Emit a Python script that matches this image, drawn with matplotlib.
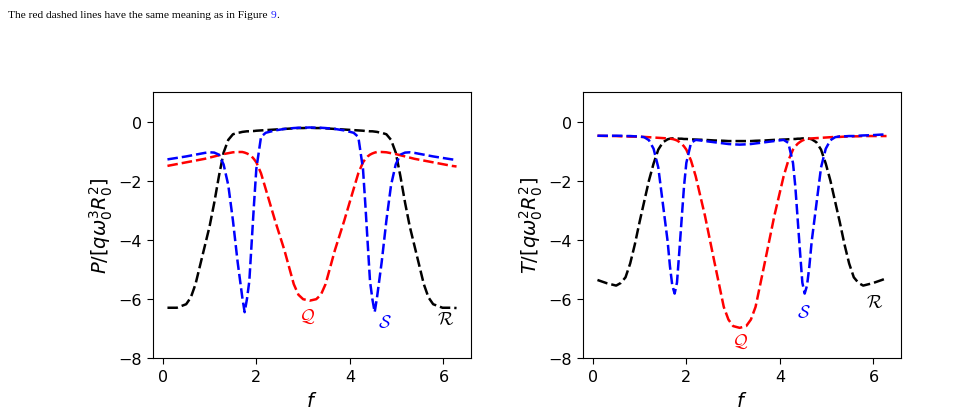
import numpy as np
import matplotlib
matplotlib.use('Agg')
import matplotlib.pyplot as plt
from matplotlib.text import Annotation

# 横坐标 f（两幅图共用）
f = [0.10, 0.30, 0.50, 0.60, 0.70, 0.80, 0.90, 1.00, 1.10, 1.20, 1.30, 1.40, 1.50, 1.60, 1.65,
     1.70, 1.75, 1.80, 1.85, 1.90, 1.95, 2.00, 2.10, 2.20, 2.40, 2.60, 2.80, 2.90, 3.00, 3.14,
     3.28, 3.38, 3.48, 3.68, 3.88, 4.08, 4.18, 4.28, 4.33, 4.38, 4.43, 4.48, 4.53, 4.58, 4.63,
     4.68, 4.78, 4.88, 4.98, 5.08, 5.18, 5.28, 5.38, 5.48, 5.58, 5.68, 5.78, 5.98, 6.18, 6.28]

# 左图 P
R_P = [-6.30, -6.30, -6.18, -5.95, -5.50, -4.85, -4.20, -3.55, -2.75, -1.85, -1.05, -0.62, -0.43, -0.38, -0.37,
       -0.35, -0.34, -0.33, -0.33, -0.32, -0.32, -0.31, -0.30, -0.29, -0.27, -0.25, -0.23, -0.22, -0.22, -0.21,
       -0.22, -0.22, -0.23, -0.25, -0.27, -0.29, -0.30, -0.31, -0.32, -0.32, -0.33, -0.33, -0.34, -0.35, -0.37,
       -0.38, -0.43, -0.62, -1.05, -1.85, -2.75, -3.55, -4.20, -4.85, -5.50, -5.95, -6.18, -6.30, -6.30, -6.31]
Q_P = [-1.50, -1.44, -1.38, -1.35, -1.32, -1.29, -1.26, -1.22, -1.18, -1.14, -1.10, -1.07, -1.04, -1.03, -1.03,
       -1.03, -1.05, -1.08, -1.12, -1.18, -1.27, -1.38, -1.75, -2.28, -3.35, -4.35, -5.50, -5.86, -6.01, -6.06,
       -6.01, -5.86, -5.50, -4.35, -3.35, -2.28, -1.75, -1.38, -1.27, -1.18, -1.12, -1.08, -1.05, -1.03, -1.03,
       -1.03, -1.04, -1.07, -1.10, -1.14, -1.18, -1.22, -1.26, -1.29, -1.32, -1.35, -1.38, -1.44, -1.50, -1.52]
S_P = [-1.28, -1.23, -1.18, -1.15, -1.12, -1.09, -1.06, -1.04, -1.05, -1.12, -1.45, -2.15, -3.35, -4.75, -5.35,
       -5.95, -6.45, -6.00, -5.40, -4.10, -2.80, -1.60, -0.52, -0.38, -0.30, -0.25, -0.22, -0.21, -0.21, -0.20,
       -0.21, -0.21, -0.22, -0.25, -0.30, -0.38, -0.52, -1.60, -2.80, -4.10, -5.40, -6.00, -6.45, -5.95, -5.35,
       -4.75, -3.35, -2.15, -1.45, -1.12, -1.05, -1.04, -1.06, -1.09, -1.12, -1.15, -1.18, -1.23, -1.28, -1.30]

# 右图 T
R_T = [-5.36, -5.47, -5.55, -5.46, -5.27, -4.80, -4.15, -3.40, -2.70, -2.00, -1.42, -0.95, -0.70, -0.60, -0.58,
       -0.57, -0.57, -0.57, -0.58, -0.58, -0.59, -0.59, -0.60, -0.61, -0.62, -0.64, -0.65, -0.66, -0.66, -0.66,
       -0.66, -0.66, -0.65, -0.64, -0.62, -0.61, -0.60, -0.59, -0.59, -0.58, -0.58, -0.57, -0.57, -0.57, -0.58,
       -0.60, -0.70, -0.95, -1.42, -2.00, -2.70, -3.40, -4.15, -4.80, -5.27, -5.46, -5.55, -5.47, -5.36, -5.30]
Q_T = [-0.48, -0.49, -0.49, -0.50, -0.50, -0.51, -0.51, -0.52, -0.52, -0.53, -0.54, -0.55, -0.56, -0.57, -0.58,
       -0.59, -0.61, -0.64, -0.69, -0.75, -0.84, -0.95, -1.32, -1.85, -3.20, -4.75, -6.27, -6.70, -6.92, -6.98,
       -6.92, -6.70, -6.27, -4.75, -3.20, -1.85, -1.32, -0.95, -0.84, -0.75, -0.69, -0.64, -0.61, -0.59, -0.58,
       -0.57, -0.56, -0.55, -0.54, -0.53, -0.52, -0.52, -0.51, -0.51, -0.50, -0.50, -0.49, -0.49, -0.49, -0.49]
S_T = [-0.48, -0.48, -0.48, -0.48, -0.49, -0.49, -0.50, -0.50, -0.53, -0.63, -0.92, -1.55, -2.80, -4.05, -4.90,
       -5.55, -5.82, -5.45, -4.40, -3.30, -2.20, -1.40, -0.72, -0.62, -0.66, -0.70, -0.74, -0.76, -0.77, -0.78,
       -0.77, -0.76, -0.74, -0.70, -0.66, -0.62, -0.72, -1.40, -2.20, -3.30, -4.40, -5.45, -5.82, -5.55, -4.90,
       -4.05, -2.80, -1.55, -0.92, -0.63, -0.53, -0.50, -0.50, -0.49, -0.49, -0.48, -0.47, -0.46, -0.44, -0.44]

labels = [r'$\mathcal{Q}$', r'$\mathcal{S}$', r'$\mathcal{R}$']
label_xy_P = [(3.09, -6.57), (4.74, -6.79), (6.05, -6.68)]
label_xy_T = [(3.14, -7.41), (4.51, -6.43), (6.02, -6.11)]


def plot_panel(ax, R, Q, S, ylabel, label_xy):
    for y, c in zip([R, Q, S], ['k', 'r', 'b']):
        ax.plot(f, y, '--', c=c, lw=1.8, dashes=(4.2, 1.6))
    for lab, (x, y), c in zip(labels, label_xy, ['r', 'b', 'k']):
        ax.text(x, y, lab, color=c, fontsize=13, ha='center', va='center', math_fontfamily='cm')
    ax.set_ylim(-8, 1)
    ax.set_yticks([-8, -6, -4, -2, 0])
    ax.set_xticks([0, 2, 4, 6])
    ax.tick_params(labelsize=11.5, length=4.5)
    ax.set_xlabel('$f$', fontsize=14, labelpad=5)
    ax.set_ylabel(ylabel, fontsize=14, labelpad=2)


fig = plt.figure(figsize=(9.68, 4.14), dpi=100)
ax1 = fig.add_axes([153 / 968, 1 - 359 / 414, 318 / 968, 266 / 414])
ax2 = fig.add_axes([583 / 968, 1 - 359 / 414, 318 / 968, 266 / 414])

plot_panel(ax1, R_P, Q_P, S_P, r'$P/[q\omega_0^3R_0^2]$', label_xy_P)
plot_panel(ax2, R_T, Q_T, S_T, r'$T/[q\omega_0^2R_0^2]$', label_xy_T)

# 顶部说明文字
t1 = fig.text(8 / 968, 1 - 20 / 414, 'The red dashed lines have the same meaning as in Figure ',
              fontsize=8.2, family='Liberation Serif', va='bottom', ha='left')
t2 = fig.add_artist(Annotation('9', xy=(1, 0), xycoords=t1, va='bottom', ha='left',
                               fontsize=8.2, family='Liberation Serif', color='#2020ff'))
fig.add_artist(Annotation('.', xy=(1, 0), xycoords=t2, va='bottom', ha='left',
                          fontsize=8.2, family='Liberation Serif'))

fig.savefig('out.png', dpi=100)
